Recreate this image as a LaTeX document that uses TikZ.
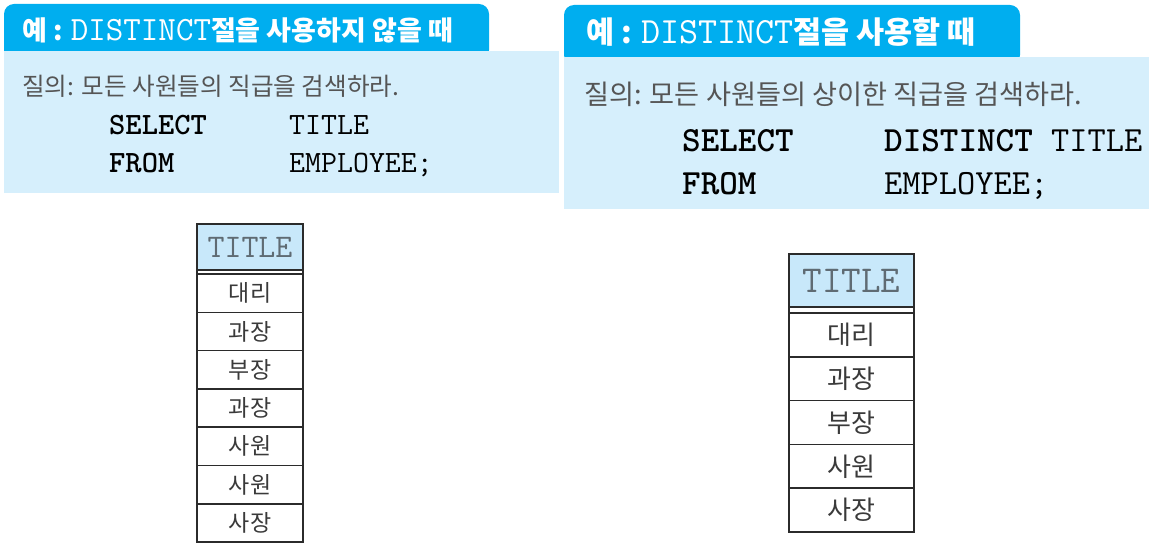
\documentclass[tikz,border=0pt]{standalone}
\usepackage{fontspec}
\usepackage{xcolor}
\usepackage{tikz}
\usetikzlibrary{positioning}
\newfontfamily\kr{Noto Sans CJK KR}
\definecolor{tabblue}{HTML}{00AEEF}
\definecolor{boxblue}{HTML}{D6EFFC}
\definecolor{headblue}{HTML}{C8E8FA}
\definecolor{querygray}{HTML}{555555}
\definecolor{cellgray}{HTML}{3A3A3A}
\definecolor{titlegray}{HTML}{5F6B73}
\definecolor{linegray}{HTML}{2B2B2B}

\begin{document}
\begin{tikzpicture}[y=-1pt,x=1pt,
	tab/.style={fill=tabblue, rounded corners=10pt},
	panel/.style={fill=boxblue},
	tabtext/.style={anchor=base west, inner sep=0pt, text=white, font=\kr\bfseries\fontsize{#1}{#1}\selectfont},
	query/.style={anchor=base west, inner sep=0pt, text=querygray, font=\kr\fontsize{#1}{#1}\selectfont},
	sql/.style={anchor=base west, inner sep=0pt, font=\ttfamily\fontsize{#1}{#1}\selectfont},
	lcell/.style={draw=linegray, line width=1.5pt, inner sep=0pt, outer sep=0pt, minimum width=106pt, minimum height=38.3pt, text=cellgray, font=\kr\fontsize{23}{23}\selectfont},
	rcell/.style={draw=linegray, line width=1.5pt, inner sep=0pt, outer sep=0pt, minimum width=125pt, minimum height=43.8pt, text=cellgray, font=\kr\fontsize{26}{26}\selectfont},
	thead/.style={fill=headblue, text=titlegray, font=\ttfamily\fontsize{#1}{#1}\selectfont}
]
	\useasboundingbox (0,0) rectangle (1149,548);
	\newcommand\MonoTab[2]{{\ttfamily\mdseries\fontsize{#1}{#1}\selectfont #2}}

	\fill[tab] (4,60) -- (4,4) -- (489,4) -- (489,60) -- cycle;
	\fill[panel] (4,51) rectangle (559,193);
	\node[tabtext=27] (ltab) at (22,41) {예 : \MonoTab{34}{DISTINCT}절을 사용하지 않을 때};
	\node[query=24.6] (lquery) at (22,96) {질의: 모든 사원들의 직급을 검색하라.};
	\node[sql=31] (lselect) at (109,135) {\textbf{SELECT}};
	\node[sql=31] (ltitle) at (289,135) {TITLE};
	\node[sql=31] (lfrom) at (109,173) {\textbf{FROM}};
	\node[sql=31] (lemp) at (289,173) {EMPLOYEE;};

	\fill[tab] (564,65) -- (564,5) -- (1020,5) -- (1020,65) -- cycle;
	\fill[panel] (564,57) rectangle (1149,209);
	\node[tabtext=30.5] (rtab) at (586,44) {예 : \MonoTab{37}{DISTINCT}절을 사용할 때};
	\node[query=27.2] (rquery) at (584,105) {질의: 모든 사원들의 상이한 직급을 검색하라.};
	\node[sql=35.4] (rselect) at (682,152) {\textbf{SELECT}};
	\node[sql=35.4] (rtitle) at (884,152) {\textbf{DISTINCT} TITLE};
	\node[sql=35.4] (rfrom) at (682,195) {\textbf{FROM}};
	\node[sql=35.4] (remp) at (884,195) {EMPLOYEE;};

	\node[lcell, thead=33, minimum height=46pt] (l0) at (250,247) {TITLE};
	\node[lcell, below=4pt of l0] (l1) {대리};
	\node[lcell, below=0pt of l1] (l2) {과장};
	\node[lcell, below=0pt of l2] (l3) {부장};
	\node[lcell, below=0pt of l3] (l4) {과장};
	\node[lcell, below=0pt of l4] (l5) {사원};
	\node[lcell, below=0pt of l5] (l6) {사원};
	\node[lcell, below=0pt of l6] (l7) {사장};
	\draw[draw=linegray, line width=1.5pt] (l0.north west) rectangle (l7.south east);

	\node[rcell, thead=38, minimum height=53pt] (r0) at (851.5,280.5) {TITLE};
	\node[rcell, below=6pt of r0] (r1) {대리};
	\node[rcell, below=0pt of r1] (r2) {과장};
	\node[rcell, below=0pt of r2] (r3) {부장};
	\node[rcell, below=0pt of r3] (r4) {사원};
	\node[rcell, below=0pt of r4] (r5) {사장};
	\draw[draw=linegray, line width=1.5pt] (r0.north west) rectangle (r5.south east);
\end{tikzpicture}
\end{document}
